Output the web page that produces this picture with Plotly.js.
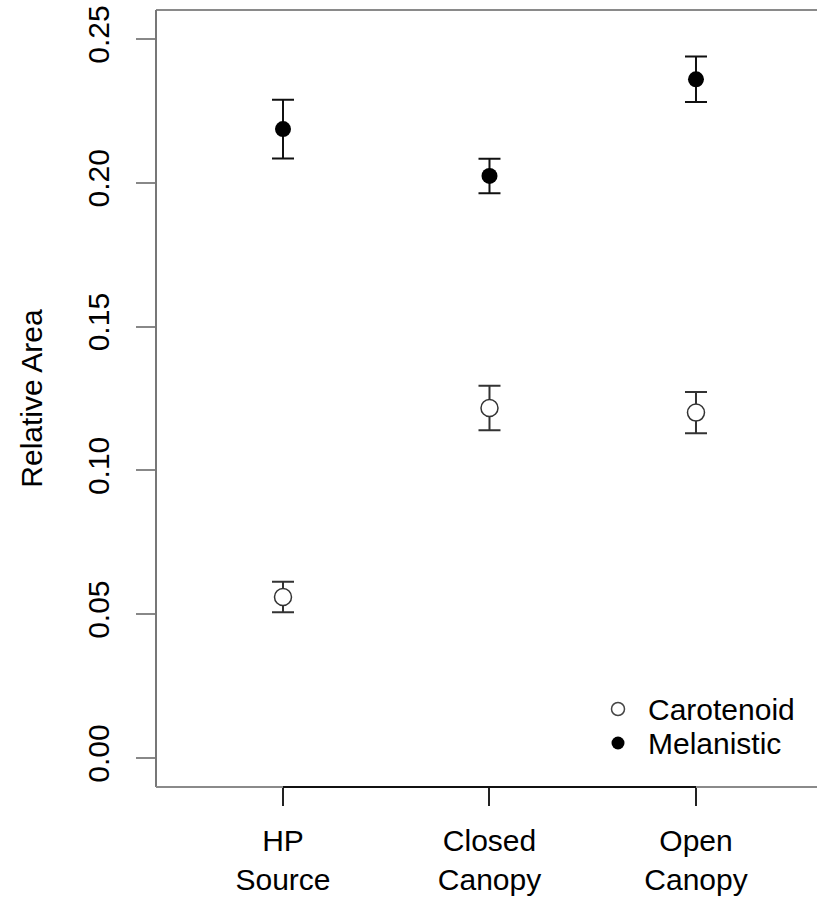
<!DOCTYPE html>
<html><head><meta charset="utf-8">
<script src="https://cdn.plot.ly/plotly-3.0.1.min.js"></script>
<style>html,body{margin:0;padding:0;overflow:hidden;background:#fff;width:817px;height:901px}</style>
</head><body><div id="plot"></div>
<script>
const categories = ["HP<br>Source", "Closed<br>Canopy", "Open<br>Canopy"];
const xpos = [1, 2, 3];
const seriesNames = ["Carotenoid", "Melanistic"];
const carotenoidMean = [0.0560, 0.1217, 0.1201];
const carotenoidErr = [0.0053, 0.0077, 0.0072];
const melanisticMean = [0.2187, 0.2024, 0.2360];
const melanisticErr = [0.0102, 0.0060, 0.0079];
const yTicks = [0, 0.05, 0.10, 0.15, 0.20, 0.25];
const yTickText = ["0.00", "0.05", "0.10", "0.15", "0.20", "0.25"];

const font = {family: "Liberation Sans, Arial, Helvetica, sans-serif", size: 30, color: "#000"};

const traces = [
  {x: xpos, y: carotenoidMean, name: seriesNames[0], type: "scatter", mode: "markers",
   error_y: {type: "data", array: carotenoidErr, visible: true, color: "#333", thickness: 2, width: 11},
   marker: {symbol: "circle", size: 17, color: "#fff", line: {color: "#333", width: 1.5}}},
  {x: xpos, y: melanisticMean, name: seriesNames[1], type: "scatter", mode: "markers",
   error_y: {type: "data", array: melanisticErr, visible: true, color: "#111", thickness: 2, width: 11},
   marker: {symbol: "circle", size: 16, color: "#000", line: {color: "#000", width: 0}}}
];

// plot area in pixels: x 156..817, y 10..787
const px = v => (v - 156) / 661;
const py = v => (787 - v) / 777;

const layout = {
  width: 817, height: 901,
  margin: {l: 156, r: 0, t: 10, b: 114},
  paper_bgcolor: "#fff", plot_bgcolor: "#fff",
  font: font,
  showlegend: false,
  xaxis: {range: [0.385, 3.586], tickvals: xpos, ticktext: categories,
          ticks: "outside", ticklen: 18, tickwidth: 2, tickcolor: "#222",
          showgrid: false, zeroline: false, showline: false, fixedrange: true,
          tickfont: font, ticklabelstandoff: 9},
  yaxis: {range: [-0.0101, 0.2601], tickvals: yTicks, ticktext: yTickText,
          ticks: "outside", ticklen: 19, tickwidth: 2, tickcolor: "#888",
          tickangle: -90, showgrid: false, zeroline: false, showline: false,
          tickfont: font, ticklabelstandoff: 15,
          title: {text: "Relative Area", font: font, standoff: 30}},
  shapes: [
    {type: "line", xref: "paper", yref: "paper", x0: 0, x1: 1, y0: 1, y1: 1, line: {color: "#8a8a8a", width: 2}},
    {type: "line", xref: "paper", yref: "paper", x0: 0, x1: 0, y0: 0, y1: 1, line: {color: "#777", width: 2}},
    {type: "line", xref: "paper", yref: "paper", x0: 0, x1: 1, y0: 0, y1: 0, line: {color: "#8a8a8a", width: 2}},
    {type: "line", xref: "x", yref: "paper", x0: xpos[0], x1: xpos[2], y0: 0, y1: 0, line: {color: "#111", width: 2}},
    {type: "circle", xref: "paper", yref: "paper", x0: px(611.5), x1: px(624.5), y0: py(715.5), y1: py(702.5),
     fillcolor: "#fff", line: {color: "#444", width: 1.5}},
    {type: "circle", xref: "paper", yref: "paper", x0: px(611.5), x1: px(624.5), y0: py(749.5), y1: py(736.5),
     fillcolor: "#000", line: {color: "#000", width: 0}}
  ],
  annotations: [
    {xref: "paper", yref: "paper", x: px(646), y: py(709), xanchor: "left", yanchor: "middle",
     text: seriesNames[0], showarrow: false, font: font},
    {xref: "paper", yref: "paper", x: px(646), y: py(743), xanchor: "left", yanchor: "middle",
     text: seriesNames[1], showarrow: false, font: font}
  ]
};
Plotly.newPlot("plot", traces, layout, {displayModeBar: false, staticPlot: true});
</script></body></html>
